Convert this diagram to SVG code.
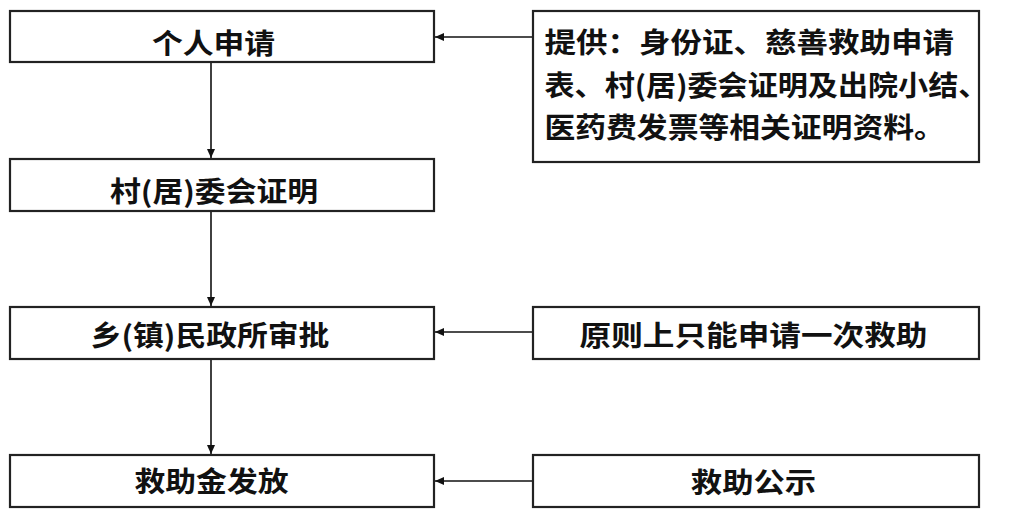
<svg xmlns="http://www.w3.org/2000/svg" width="1033" height="527" viewBox="0 0 1033 527">
<style>
.box{fill:#fff;stroke:#222;stroke-width:2.2}
.t{font-family:"Noto Sans CJK SC","Noto Sans",sans-serif;font-weight:bold;font-size:28px;fill:#111;dominant-baseline:central}
.c{text-anchor:middle}
.conn{stroke:#111;stroke-width:1.6;fill:none;marker-end:url(#ah)}
</style>
<defs>
<marker id="ah" markerWidth="9" markerHeight="8" refX="9" refY="4" orient="auto" markerUnits="userSpaceOnUse">
<path d="M0,0 L9,4 L0,8 z" fill="#111"/>
</marker>
</defs>
<rect width="1033" height="527" fill="#fff"/>
<g id="connectors">
<line class="conn" x1="211" y1="62" x2="211" y2="158"/>
<line class="conn" x1="211" y1="211" x2="211" y2="306"/>
<line class="conn" x1="211" y1="359" x2="211" y2="454"/>
<line class="conn" x1="533" y1="37" x2="435" y2="37"/>
<line class="conn" x1="533" y1="332" x2="435" y2="332"/>
<line class="conn" x1="533" y1="481" x2="435" y2="481"/>
</g>
<g id="n1">
<rect class="box" x="10" y="11" width="424" height="51"/>
<text class="t c" transform="translate(213.5,42) scale(1.1,1)">个人申请</text>
</g>
<g id="n2">
<rect class="box" x="10" y="159" width="424" height="52"/>
<text class="t c" transform="translate(214,189.5) scale(1.1,1)">村(居)委会证明</text>
</g>
<g id="n3">
<rect class="box" x="10" y="307" width="424" height="52"/>
<text class="t c" transform="translate(210,333.5) scale(1.1,1)">乡(镇)民政所审批</text>
</g>
<g id="n4">
<rect class="box" x="10" y="455" width="424" height="52"/>
<text class="t c" transform="translate(211.5,480) scale(1.1,1)">救助金发放</text>
</g>
<g id="r1">
<rect class="box" x="533" y="11" width="446" height="151"/>
<text class="t" transform="translate(544.5,40.5) scale(1.125,1)">提供：身份证、慈善救助申请</text>
<text class="t" transform="translate(544.5,83) scale(1.075,1)">表、村(居)委会证明及出院小结、</text>
<text class="t" transform="translate(544.5,126) scale(1.1,1)">医药费发票等相关证明资料。</text>
</g>
<g id="r2">
<rect class="box" x="533" y="307" width="446" height="52"/>
<text class="t c" transform="translate(753.5,334) scale(1.13,1)">原则上只能申请一次救助</text>
</g>
<g id="r3">
<rect class="box" x="533" y="455" width="446" height="52"/>
<text class="t c" transform="translate(753.5,481) scale(1.12,1)">救助公示</text>
</g>
</svg>
